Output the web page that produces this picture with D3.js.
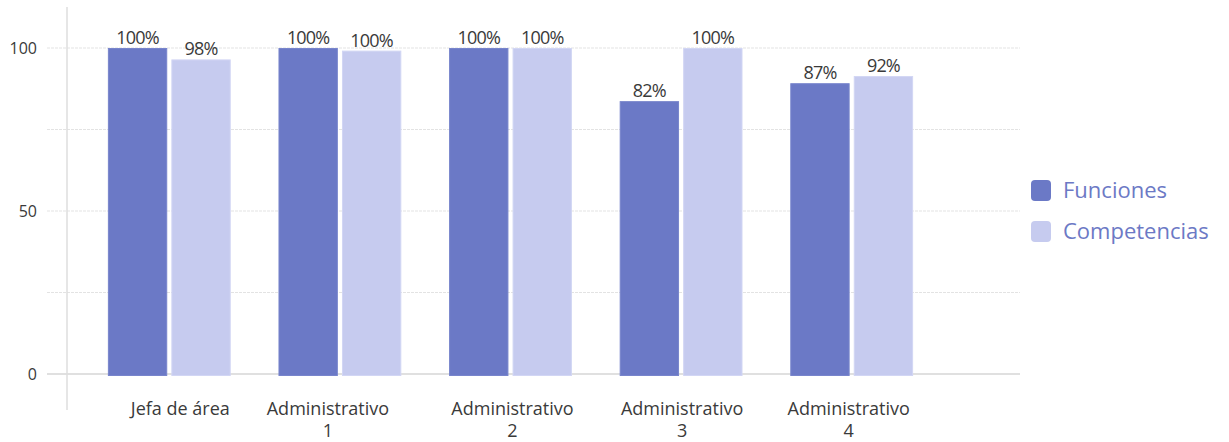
<!DOCTYPE html>
<html>
<head>
<meta charset="utf-8">
<script src="https://cdn.jsdelivr.net/npm/d3@7"></script>
<style>
  html, body { margin: 0; padding: 0; background: #ffffff; }
  svg { display: block; font-family: "Open Sans", "DejaVu Sans", sans-serif; }
</style>
</head>
<body>
<svg id="chart" width="1229" height="442"></svg>
<script>
// ---- data ----
const categories = [["Jefa de área"], ["Administrativo", "1"], ["Administrativo", "2"], ["Administrativo", "3"], ["Administrativo", "4"]];
const seriesNames = ["Funciones", "Competencias"];
const funcionesValues = [100, 100, 100, 83.7, 89.2];
const competenciasValues = [96.5, 99.2, 100, 100, 91.4];
const funcionesLabels = ["100%", "100%", "100%", "82%", "87%"];
const competenciasLabels = ["98%", "100%", "100%", "100%", "92%"];
const yTicks = [0, 50, 100];
const yGrid = [25, 50, 75, 100];

// ---- style / layout ----
const colors = ["#6b79c6", "#c6cbef"];
const strokes = ["#7885cc", "#d2d6f4"];
const labelShift = [11, -12, 2, 1, -3];

const svg = d3.select("#chart");
const catIds = categories.map((c, i) => i);
const x0 = d3.scaleBand().domain(catIds).range([84, 937]).paddingInner(0.28).paddingOuter(0.14);
const x1 = d3.scaleBand().domain(seriesNames).range([0, x0.bandwidth()]).paddingInner(0.065);
const y = d3.scaleLinear().domain([0, 100]).range([374, 48]);

const gridLeft = 47, gridRight = 1020, axisX = 67;

// gridlines
svg.append("g").selectAll("line").data(yGrid).join("line")
  .attr("x1", gridLeft).attr("x2", gridRight)
  .attr("y1", d => y(d)).attr("y2", d => y(d))
  .attr("stroke", "#e3e3e3").attr("stroke-width", 1)
  .attr("stroke-dasharray", "3,1");

// baseline
svg.append("line").attr("x1", gridLeft).attr("x2", gridRight).attr("y1", y(0)).attr("y2", y(0))
  .attr("stroke", "#e0e0e0").attr("stroke-width", 2);

// vertical axis line
svg.append("line").attr("x1", axisX).attr("x2", axisX).attr("y1", 7).attr("y2", 410)
  .attr("stroke", "#dedede").attr("stroke-width", 1.5);

// y tick labels
const yAxis = d3.axisLeft(y).tickValues(yTicks).tickSize(0).tickPadding(0);
const yg = svg.append("g").attr("transform", "translate(37,0)").call(yAxis);
yg.select(".domain").remove();
yg.selectAll("text").attr("font-size", 16).attr("fill", "#3a3a3a")
  .attr("font-family", "'Open Sans', sans-serif");

// bars
const series = [
  { name: seriesNames[0], values: funcionesValues, labels: funcionesLabels },
  { name: seriesNames[1], values: competenciasValues, labels: competenciasLabels }
];
series.forEach((s, si) => {
  const g = svg.append("g");
  g.selectAll("rect").data(s.values).join("rect")
    .attr("x", (d, i) => x0(i) + x1(s.name) + 0.5)
    .attr("y", d => y(d) + 0.5)
    .attr("width", x1.bandwidth() - 1)
    .attr("height", d => y(0) - y(d) + 1)
    .attr("fill", colors[si])
    .attr("stroke", strokes[si]).attr("stroke-width", 1);
  g.selectAll("text").data(s.values).join("text")
    .attr("x", (d, i) => x0(i) + x1(s.name) + x1.bandwidth() / 2)
    .attr("y", d => y(d) - 4)
    .attr("text-anchor", "middle")
    .attr("font-size", 18)
    .attr("letter-spacing", -0.8)
    .attr("fill", "#3a3a3a")
    .text((d, i) => s.labels[i]);
});

// x labels
const xl = svg.append("g");
categories.forEach((lines, i) => {
  const cx = x0(i) + x0.bandwidth() / 2 + labelShift[i];
  const t = xl.append("text")
    .attr("x", cx)
    .attr("y", 415)
    .attr("text-anchor", "middle")
    .attr("font-size", 18)
    .attr("fill", "#3a3a3a");
  lines.forEach((ln, li) => {
    t.append("tspan").attr("x", cx).attr("dy", li === 0 ? 0 : 22).text(ln);
  });
});

// legend
const legend = svg.append("g").attr("transform", "translate(1031,180)");
seriesNames.forEach((n, i) => {
  const row = legend.append("g").attr("transform", `translate(0,${i * 41})`);
  row.append("rect").attr("width", 20).attr("height", 21).attr("rx", 4)
    .attr("fill", colors[i]);
  row.append("text").attr("x", 32).attr("y", 18).attr("font-size", 22)
    .attr("fill", "#6c79c5").text(n);
});
</script>
</body>
</html>
